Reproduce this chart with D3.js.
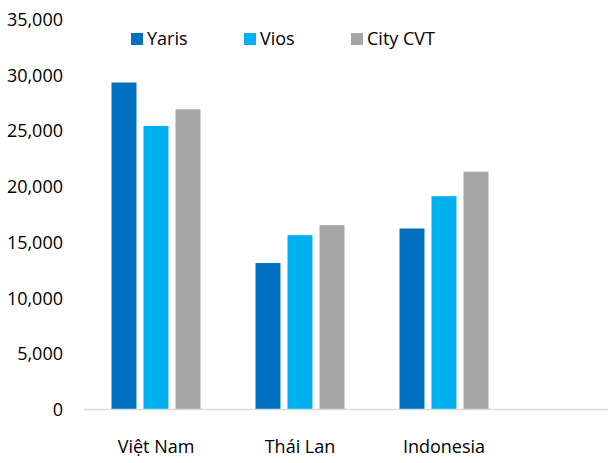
<!DOCTYPE html>
<html>
<head>
<meta charset="utf-8">
<script src="https://cdn.jsdelivr.net/npm/d3@7"></script>
<style>
  body { margin: 0; background: #fff; }
  text { font-family: "Open Sans", "Noto Sans", sans-serif; fill: #000; }
</style>
</head>
<body>
<div id="chart"></div>
<script>
// data
const countries = ["Việt Nam", "Thái Lan", "Indonesia"];
const models = ["Yaris", "Vios", "City CVT"];
const yaris = [29300, 13100, 16200];
const vios = [25400, 15600, 19100];
const cityCvt = [26900, 16500, 21300];
const yTicks = [0, 5000, 10000, 15000, 20000, 25000, 30000, 35000];
const colors = ["#0070c0", "#00b0f0", "#a5a5a5"];

const seriesValues = [yaris, vios, cityCvt];
const rows = countries.map((c, i) => ({
  country: c,
  values: models.map((m, j) => ({ model: m, value: seriesValues[j][i] })),
}));

const width = 608, height = 463;
const margin = { top: 19, right: 92, bottom: 54, left: 84 };

const svg = d3
  .select("#chart")
  .append("svg")
  .attr("width", width)
  .attr("height", height);

const x = d3
  .scaleBand()
  .domain(countries)
  .range([margin.left, width - margin.right]);

const x1 = d3
  .scaleBand()
  .domain(models)
  .range([0, 89])
  .paddingInner(0.22);

const y = d3
  .scaleLinear()
  .domain([0, 35000])
  .range([height - margin.bottom, margin.top]);

// y axis labels (no line)
const yAxis = d3
  .axisLeft(y)
  .tickValues(yTicks)
  .tickFormat(d3.format(","))
  .tickSize(0)
  .tickPadding(21);

svg
  .append("g")
  .attr("transform", `translate(${margin.left},0)`)
  .call(yAxis)
  .call((g) => g.select(".domain").remove())
  .selectAll("text")
  .style("font-size", "18px")
  .attr("dy", "0.36em");

// bars
const groups = svg
  .selectAll(".group")
  .data(rows)
  .join("g")
  .attr("class", "group")
  .attr("transform", (d) => `translate(${x(d.country) + x.bandwidth() / 2 - 44.5},0)`);

groups
  .selectAll("rect")
  .data((d) => d.values)
  .join("rect")
  .attr("x", (d) => x1(d.model))
  .attr("width", x1.bandwidth())
  .attr("y", (d) => y(d.value))
  .attr("height", (d) => y(0) - y(d.value))
  .attr("fill", (d, i) => colors[i]);

// x axis line
svg
  .append("line")
  .attr("x1", margin.left)
  .attr("x2", width)
  .attr("y1", y(0) + 0.5)
  .attr("y2", y(0) + 0.5)
  .attr("stroke", "#d9d9d9")
  .attr("stroke-width", 1.5);

// x labels
const xAxis = d3.axisBottom(x).tickSize(0).tickPadding(31);
svg
  .append("g")
  .attr("transform", `translate(0,${y(0)})`)
  .call(xAxis)
  .call((g) => g.select(".domain").remove())
  .selectAll("text")
  .style("font-size", "18px");

// legend
const legendX = [131, 244, 351];
const legend = svg
  .selectAll(".legend")
  .data(models)
  .join("g")
  .attr("class", "legend")
  .attr("transform", (d, i) => `translate(${legendX[i]},33)`);

legend
  .append("rect")
  .attr("width", 12)
  .attr("height", 12)
  .attr("fill", (d, i) => colors[i]);

legend
  .append("text")
  .attr("x", 16)
  .attr("y", 6)
  .attr("dy", "0.36em")
  .style("font-size", "18px")
  .text((d) => d);
</script>
</body>
</html>
